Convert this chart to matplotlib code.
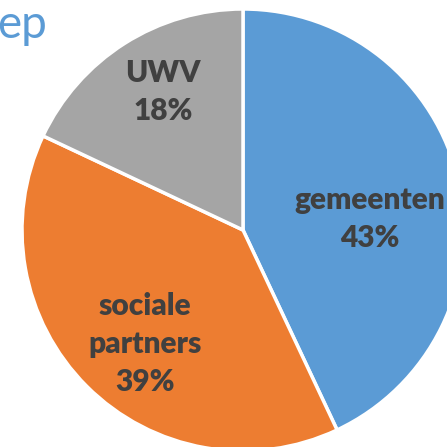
import matplotlib
matplotlib.use("Agg")
import matplotlib.pyplot as plt

categories = ["gemeenten", "sociale\npartners", "UWV"]
shares = [43, 39, 18]
colors = ["#5B9BD5", "#ED7D31", "#A5A5A5"]
title_text = "ep"

W = H = 447
fig = plt.figure(figsize=(4.47, 4.47), dpi=100)
ax = fig.add_axes([0, 0, 1, 1])

cx, cy, r = 243, 230, 221
wedges, _ = ax.pie(shares, colors=colors, startangle=90, counterclock=False,
                   center=(cx, H - cy), radius=r, frame=True,
                   wedgeprops=dict(edgecolor="white", linewidth=2.5))
ax.set_xlim(0, W)
ax.set_ylim(0, H)
ax.set_aspect("equal")
ax.axis("off")

label_pos = [(370, 219), (145, 344), (163, 92)]
for cat, val, (x, y) in zip(categories, shares, label_pos):
    ax.text(x, H - y, f"{cat}\n{val}%", ha="center", va="center",
            fontsize=21.5, fontweight="heavy", family=["Lato", "DejaVu Sans"],
            color="#404040", linespacing=1.42)

ax.text(-3, H - 38, title_text, ha="left", va="baseline", fontsize=33,
        fontweight="normal", family=["Lato", "DejaVu Sans"], color="#5B9BD5")

fig.savefig("out.png", dpi=100)
